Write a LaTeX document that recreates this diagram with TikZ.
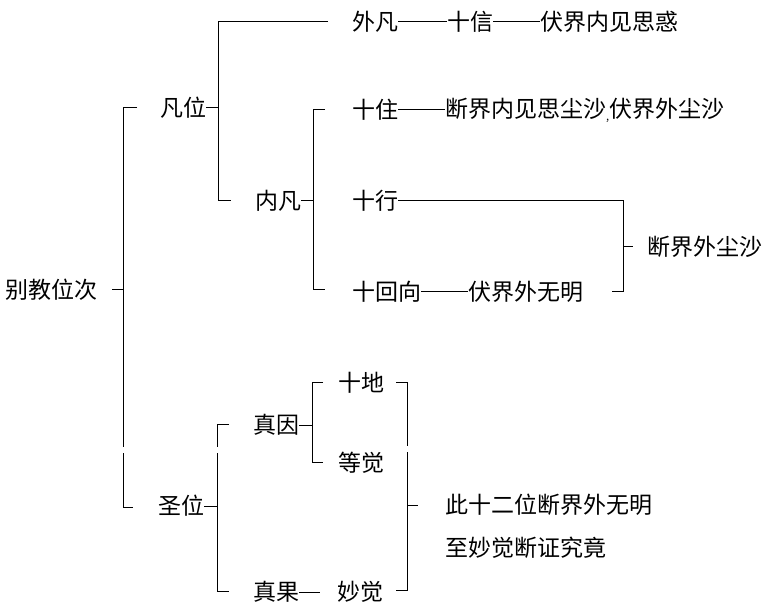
\documentclass[tikz,border=0pt]{standalone}
\usepackage{fontspec}
\setmainfont{Noto Sans CJK SC}
\begin{document}
\begin{tikzpicture}[x=1pt,y=-1pt,
  lbl/.style={inner sep=0pt, anchor=west, font=\fontsize{23}{27}\selectfont},
  ln/.style={line width=1pt, black}]
\useasboundingbox[fill=white] (0,0) rectangle (765,609);
% ---- nodes
\node[lbl] (root) at (5,290) {别教位次};
\node[lbl] (fanwei) at (160,108) {凡位};
\node[lbl] (waifan) at (352,22) {外凡};
\node[lbl] (shixin) at (447,22) {十信};
\node[lbl] (fujie1) at (540,22) {伏界内见思惑};
\node[lbl] (neifan) at (255,201) {内凡};
\node[lbl] (shizhu) at (352,110) {十住};
\node[lbl] (duan1) at (445,110) {断界内见思尘沙\raisebox{-3pt}{\fontsize{11}{11}\selectfont ,}伏界外尘沙};
\node[lbl] (shixing) at (352,201) {十行};
\node[lbl] (duan2) at (647,247) {断界外尘沙};
\node[lbl] (shihui) at (352,292) {十回向};
\node[lbl] (fujie2) at (468,292) {伏界外无明};
\node[lbl] (shengwei) at (158,506) {圣位};
\node[lbl] (zhenyin) at (253,425) {真因};
\node[lbl] (shidi) at (338,383) {十地};
\node[lbl] (dengjue) at (338,463) {等觉};
\node[lbl] (ci) at (445,505) {此十二位断界外无明};
\node[lbl] (zhi) at (445,548) {至妙觉断证究竟};
\node[lbl] (zhenguo) at (253,592) {真果};
\node[lbl] (miaojue) at (337,592) {妙觉};
% ---- coordinates
\coordinate (mT) at (123,108); \coordinate (mTe) at (137,108);
\coordinate (mM) at (123,290); \coordinate (mMe) at (112,290);
\coordinate (mG1) at (123,447); \coordinate (mG2) at (123,453);
\coordinate (mB) at (123,507); \coordinate (mBe) at (133,507);
\coordinate (fA) at (218,22); \coordinate (fAe) at (328,22);
\coordinate (fM) at (218,108);
\coordinate (fB) at (218,201); \coordinate (fBe) at (231,201);
\coordinate (nA) at (313,110); \coordinate (nAe) at (325,110);
\coordinate (nM) at (313,201);
\coordinate (nB) at (313,290); \coordinate (nBe) at (325,290);
\coordinate (xA) at (623,201); \coordinate (xM) at (623,247);
\coordinate (xMe) at (633,247);
\coordinate (xB) at (623,292); \coordinate (xBe) at (612,292);
\coordinate (sA) at (217,424); \coordinate (sAe) at (229,424);
\coordinate (sG1) at (217,447); \coordinate (sG2) at (217,453);
\coordinate (sM) at (217,506);
\coordinate (sB) at (217,591); \coordinate (sBe) at (229,591);
\coordinate (yA) at (312,382); \coordinate (yAe) at (323,382);
\coordinate (yM) at (312,425);
\coordinate (yB) at (312,462); \coordinate (yBe) at (323,462);
\coordinate (rA) at (407,382); \coordinate (rAe) at (396,382);
\coordinate (rG1) at (407,446); \coordinate (rG2) at (407,452);
\coordinate (rM) at (407,505); \coordinate (rMe) at (418,505);
\coordinate (rB) at (407,590); \coordinate (rBe) at (396,590);
\coordinate (gE) at (320,592);
% ---- connectors
\draw[ln] (mTe) -- (mT) -- (mG1);
\draw[ln] (mG2) -- (mB) -- (mBe);
\draw[ln] (mMe) -- (mM);
\draw[ln] (fanwei.east) -- (fM);
\draw[ln] (fAe) -- (fA) -- (fB) -- (fBe);
\draw[ln] (waifan.east) -- (shixin.west);
\draw[ln] (shixin.east) -- (fujie1.west);
\draw[ln] (neifan.east) -- (nM);
\draw[ln] (nAe) -- (nA) -- (nB) -- (nBe);
\draw[ln] (shizhu.east) -- (duan1.west);
\draw[ln] (shixing.east) -- (xA) -- (xB) -- (xBe);
\draw[ln] (xM) -- (xMe);
\draw[ln] (shihui.east) -- (fujie2.west);
\draw[ln] (shengwei.east) -- (sM);
\draw[ln] (sAe) -- (sA) -- (sG1);
\draw[ln] (sG2) -- (sB) -- (sBe);
\draw[ln] (zhenyin.east) -- (yM);
\draw[ln] (yAe) -- (yA) -- (yB) -- (yBe);
\draw[ln] (rAe) -- (rA) -- (rG1);
\draw[ln] (rG2) -- (rB) -- (rBe);
\draw[ln] (rM) -- (rMe);
\draw[ln] (zhenguo.east) -- (gE);
\end{tikzpicture}
\end{document}
